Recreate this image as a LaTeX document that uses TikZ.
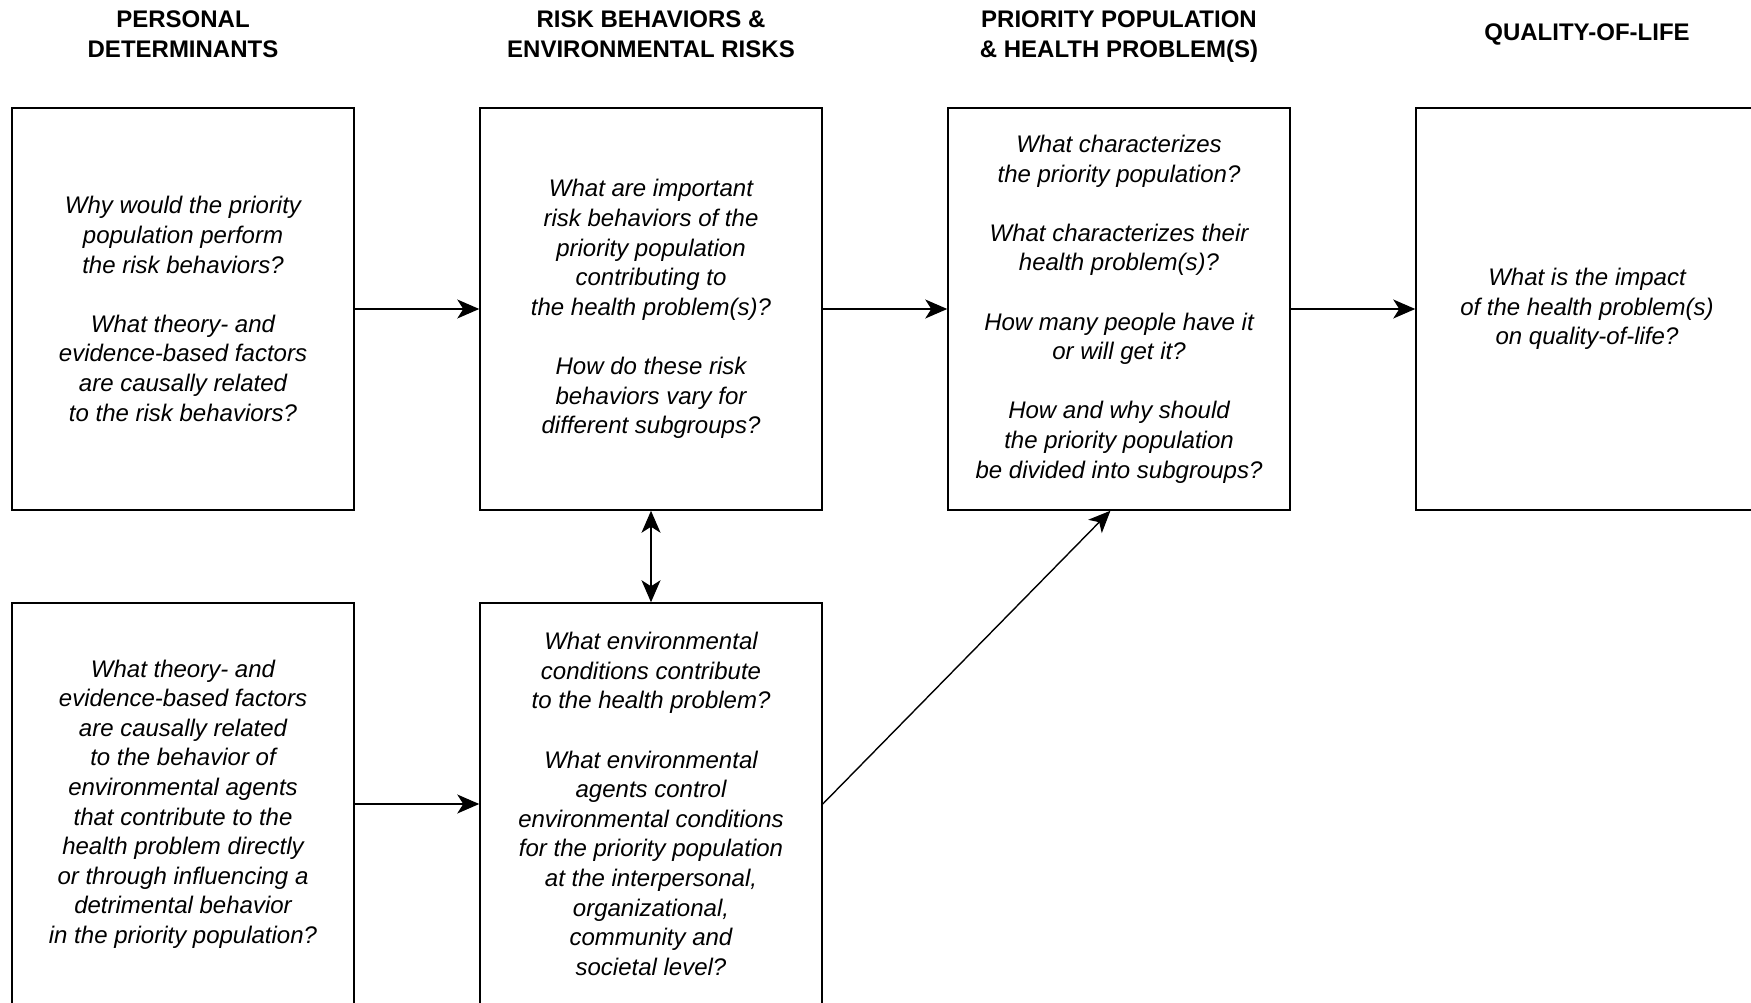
\documentclass[tikz,border=0pt]{standalone}
\usepackage{fontspec}
\setmainfont{Liberation Sans}
\usetikzlibrary{arrows.meta,calc}
\begin{document}
\begin{tikzpicture}[x=1pt,y=-1pt,
  qbox/.style={draw=black, line width=1.5pt, minimum width=342pt, minimum height=402pt,
    inner sep=0pt, align=center, font=\fontsize{24}{29.6}\selectfont\itshape},
  head/.style={align=center, font=\fontsize{24}{30}\selectfont\bfseries},
  tip/.style={Stealth[length=22pt,width=19pt,inset=6pt]},
  conn/.style={line width=1.4pt, -{Stealth[length=22pt,width=19pt,inset=6pt]}},
  biconn/.style={line width=1.4pt, {Stealth[length=22pt,width=19pt,inset=6pt]}-{Stealth[length=22pt,width=19pt,inset=6pt]}},
]
\useasboundingbox (0,0) rectangle (1751,1003);

% column headings
\node[head] (h1) at (183,34) {PERSONAL\\DETERMINANTS};
\node[head] (h2) at (651,34) {RISK BEHAVIORS \&\\ENVIRONMENTAL RISKS};
\node[head] (h3) at (1119,37) {PRIORITY POPULATION\\\& HEALTH PROBLEM(S)};
\node[head] (h4) at (1587,34) {QUALITY-OF-LIFE};

% upper row of question boxes
\node[qbox] (pd) at (183,309) {Why would the priority\\population perform\\the risk behaviors?\\[29.6pt]
  What theory- and\\evidence-based factors\\are causally related\\to the risk behaviors?};
\node[qbox] (rb) at (651,309) {What are important\\risk behaviors of the\\priority population\\contributing to\\the health problem(s)?\\[29.6pt]
  How do these risk\\behaviors vary for\\different subgroups?};
\node[qbox] (pp) at (1119,309) {What characterizes\\the priority population?\\[29.6pt]
  What characterizes their\\health problem(s)?\\[29.6pt]
  How many people have it\\or will get it?\\[29.6pt]
  How and why should\\the priority population\\be divided into subgroups?};
\node[qbox] (ql) at (1587,309) {What is the impact\\of the health problem(s)\\on quality-of-life?};

% lower row of question boxes
\node[qbox] (ed) at (183,804) {What theory- and\\evidence-based factors\\are causally related\\to the behavior of\\environmental agents\\that contribute to the\\health problem directly\\or through influencing a\\detrimental behavior\\in the priority population?};
\node[qbox] (er) at (651,804) {What environmental\\conditions contribute\\to the health problem?\\[29.6pt]
  What environmental\\agents control\\environmental conditions\\for the priority population\\at the interpersonal,\\organizational,\\community and\\societal level?};

% connectors
\coordinate (ppin) at ($(pp.south west)!0.475!(pp.south east)$);
\draw[conn] (pd) -- (rb);
\draw[conn] (rb) -- (pp);
\draw[conn] (pp) -- (ql);
\draw[conn] (ed) -- (er);
\draw[biconn] (rb.south) -- (er.north);
\draw[conn] (er.east) -- (ppin);
\end{tikzpicture}
\end{document}
